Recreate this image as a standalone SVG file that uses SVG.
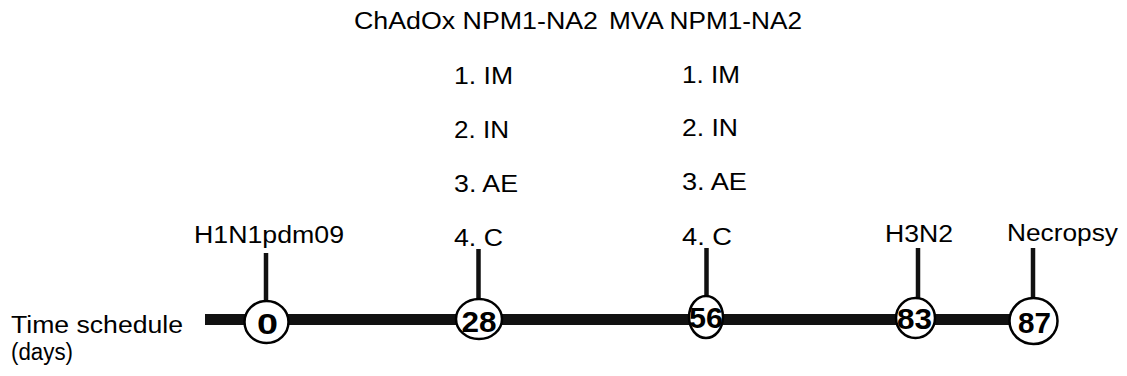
<svg xmlns="http://www.w3.org/2000/svg" width="1127" height="376" viewBox="0 0 1127 376">
<style>
.t{font-family:"Liberation Sans",Arial,sans-serif;font-size:23.5px;fill:#000}
.n{font-family:"Liberation Sans",Arial,sans-serif;font-size:30px;font-weight:bold;fill:#000;text-anchor:middle}
.c{fill:#fff;stroke:#000;stroke-width:2.5}
.s{stroke:#111;stroke-width:4.5}
</style>
<rect width="1127" height="376" fill="#fff"/>
<g id="title">
<text class="t" x="354" y="29" textLength="244" lengthAdjust="spacingAndGlyphs">ChAdOx NPM1-NA2</text>
<text class="t" x="609" y="29" textLength="193" lengthAdjust="spacingAndGlyphs">MVA NPM1-NA2</text>
</g>
<g id="axis-label">
<text class="t" x="11" y="333" textLength="172" lengthAdjust="spacingAndGlyphs">Time schedule</text>
<text class="t" x="11" y="360" textLength="62" lengthAdjust="spacingAndGlyphs">(days)</text>
</g>
<g id="connectors">
<rect x="205" y="314" width="805" height="11" fill="#111"/>
</g>
<g id="day0">
<line class="s" x1="266" y1="253" x2="266" y2="301"/>
<ellipse class="c" cx="266.5" cy="322" rx="22" ry="21"/>
<text class="n" x="267.5" y="334" textLength="21" lengthAdjust="spacingAndGlyphs">0</text>
<text class="t" x="194" y="243" textLength="150" lengthAdjust="spacingAndGlyphs">H1N1pdm09</text>
</g>
<g id="day28">
<line class="s" x1="478.5" y1="249" x2="478.5" y2="299"/>
<ellipse class="c" cx="479" cy="319" rx="23" ry="20"/>
<text class="n" x="479" y="332" textLength="35" lengthAdjust="spacingAndGlyphs">28</text>
<text class="t" x="454" y="84" textLength="59" lengthAdjust="spacingAndGlyphs">1. IM</text>
<text class="t" x="454" y="138" textLength="55" lengthAdjust="spacingAndGlyphs">2. IN</text>
<text class="t" x="454" y="192" textLength="64" lengthAdjust="spacingAndGlyphs">3. AE</text>
<text class="t" x="454" y="246" textLength="49" lengthAdjust="spacingAndGlyphs">4. C</text>
</g>
<g id="day56">
<line class="s" x1="706.5" y1="248" x2="706.5" y2="296"/>
<ellipse class="c" cx="706" cy="317" rx="17" ry="21"/>
<text class="n" x="706" y="328" textLength="34" lengthAdjust="spacingAndGlyphs">56</text>
<text class="t" x="682" y="83" textLength="58" lengthAdjust="spacingAndGlyphs">1. IM</text>
<text class="t" x="682" y="136" textLength="56" lengthAdjust="spacingAndGlyphs">2. IN</text>
<text class="t" x="682" y="190" textLength="65" lengthAdjust="spacingAndGlyphs">3. AE</text>
<text class="t" x="682" y="245" textLength="50" lengthAdjust="spacingAndGlyphs">4. C</text>
</g>
<g id="day83">
<line class="s" x1="918" y1="248" x2="918" y2="298"/>
<ellipse class="c" cx="915.5" cy="318" rx="19.5" ry="20"/>
<text class="n" x="914.5" y="329" textLength="35" lengthAdjust="spacingAndGlyphs">83</text>
<text class="t" x="885" y="242" textLength="68" lengthAdjust="spacingAndGlyphs">H3N2</text>
</g>
<g id="day87">
<line class="s" x1="1033" y1="248" x2="1033" y2="298"/>
<ellipse class="c" cx="1033.5" cy="321" rx="24" ry="23"/>
<text class="n" x="1034.5" y="333" textLength="33" lengthAdjust="spacingAndGlyphs">87</text>
<text class="t" x="1007" y="241" textLength="111" lengthAdjust="spacingAndGlyphs">Necropsy</text>
</g>
</svg>
